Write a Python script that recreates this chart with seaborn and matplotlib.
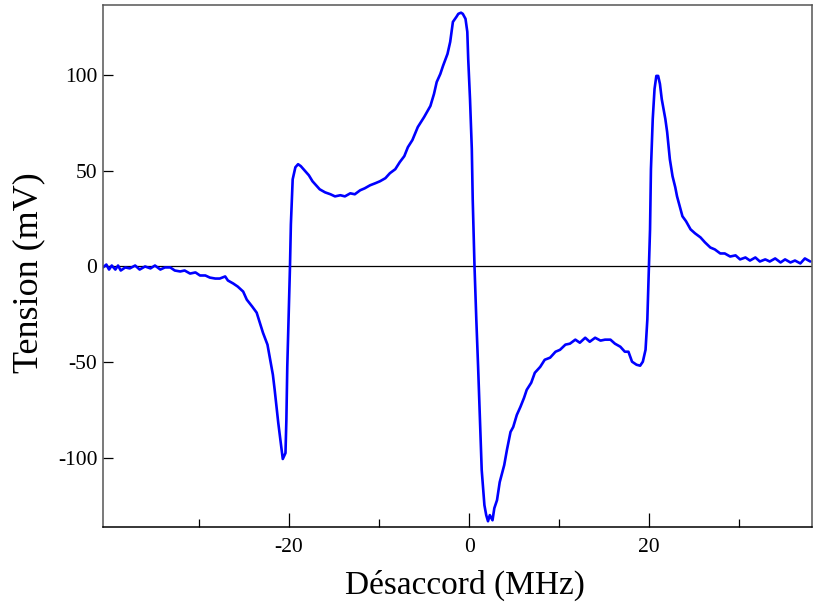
import pandas as pd
import matplotlib
matplotlib.use("Agg")
import matplotlib.pyplot as plt
import seaborn as sns
from matplotlib.ticker import FixedLocator

# Detuning (MHz)
detuning = [
    -40.67, -40.3, -40.0, -39.7, -39.3, -39.0, -38.7, -38.2, -37.7, -37.1,
    -36.6, -36.0, -35.4, -34.9, -34.3, -33.8, -33.2, -32.7, -32.1, -31.6,
    -31.0, -30.4, -29.9, -29.3, -28.8, -28.2, -27.7, -27.1, -26.8, -26.2,
    -25.7, -25.1, -24.7, -24.1, -23.6, -22.9, -22.4, -22.1, -21.8, -21.6,
    -21.2, -20.9, -20.7, -20.4, -20.3, -20.2, -20.0, -19.9, -19.8, -19.6,
    -19.3, -19.0, -18.7, -18.2, -17.8, -17.4, -17.0, -16.6, -16.0, -15.4,
    -14.9, -14.3, -13.8, -13.2, -12.7, -12.1, -11.6, -11.0, -10.4, -9.9,
    -9.3, -8.8, -8.2, -7.7, -7.2, -6.8, -6.3, -5.7, -5.0, -4.3,
    -3.9, -3.6, -3.2, -2.9, -2.4, -2.1, -1.9, -1.8, -1.4, -1.2,
    -0.9, -0.7, -0.4, -0.2, -0.1, 0.1, 0.3, 0.4, 0.6, 0.8,
    1.0, 1.2, 1.4, 1.7, 1.9, 2.1, 2.3, 2.6, 2.8, 3.1,
    3.4, 3.9, 4.2, 4.6, 4.9, 5.3, 5.7, 6.1, 6.4, 6.9,
    7.3, 7.9, 8.4, 9.0, 9.6, 10.1, 10.7, 11.2, 11.8, 12.3,
    12.9, 13.4, 14.0, 14.6, 15.1, 15.7, 16.2, 16.8, 17.3, 17.7,
    18.1, 18.6, 19.0, 19.3, 19.6, 19.8, 19.9, 20.1, 20.2, 20.4,
    20.6, 20.8, 21.0, 21.2, 21.4, 21.8, 22.0, 22.3, 22.6, 22.9,
    23.1, 23.4, 23.7, 24.1, 24.6, 25.1, 25.7, 26.2, 26.8, 27.3,
    27.9, 28.4, 29.0, 29.6, 30.1, 30.7, 31.2, 31.8, 32.3, 32.9,
    33.4, 34.0, 34.6, 35.1, 35.7, 36.2, 36.8, 37.3, 37.9,
]

# Signal voltage (mV)
tension = [
    -0.5, 1.0, -1.6, 0.5, -1.6, 0.5, -2.1, -0.5, -1.0, 0.5,
    -1.6, 0.0, -1.0, 0.5, -1.6, -0.5, -0.5, -2.1, -2.6, -2.1,
    -3.7, -3.1, -4.7, -4.7, -5.8, -6.3, -6.3, -5.2, -7.3, -8.9,
    -10.5, -13.1, -17.3, -20.9, -24.1, -34.6, -40.8, -48.7, -56.5, -64.4,
    -81.7, -93.2, -100.5, -97.4, -80.1, -52.4, -17.3, 0.0, 22.0, 45.5,
    51.8, 53.4, 52.4, 49.7, 47.6, 44.5, 42.4, 40.3, 38.7, 37.7,
    36.6, 37.2, 36.6, 38.2, 37.7, 39.8, 40.8, 42.4, 43.5, 44.5,
    46.1, 48.7, 50.8, 54.5, 57.6, 62.3, 66.0, 72.8, 78.0, 83.8,
    90.1, 96.3, 100.5, 104.7, 111.0, 117.3, 124.1, 127.7, 130.4, 131.9,
    132.5, 131.9, 129.3, 122.5, 108.4, 87.4, 61.3, 35.1, 0.0, -27.7,
    -52.4, -80.1, -106.3, -124.6, -129.8, -133.0, -129.8, -132.5, -126.2, -122.0,
    -112.6, -103.7, -95.8, -86.4, -83.8, -77.5, -73.3, -68.6, -64.4, -60.7,
    -55.5, -52.4, -48.7, -47.6, -44.5, -43.5, -40.8, -40.3, -38.2, -39.8,
    -37.2, -39.3, -37.2, -38.7, -38.2, -38.2, -40.3, -41.9, -44.5, -44.5,
    -49.7, -51.3, -51.8, -49.7, -43.5, -27.7, -12.0, 19.4, 50.8, 77.0,
    92.7, 99.5, 99.5, 95.3, 87.4, 77.0, 70.2, 56.0, 47.1, 41.4,
    36.6, 31.4, 26.2, 23.6, 19.4, 17.3, 15.2, 12.6, 9.9, 8.9,
    6.8, 6.8, 5.2, 5.8, 3.7, 4.7, 3.1, 4.7, 2.6, 3.7,
    2.6, 4.2, 2.1, 3.7, 2.1, 3.1, 1.6, 4.2, 2.6,
]

x_major = [-20, 0, 20]
x_minor = [-30, -10, 10, 30]
y_ticks = [-100, -50, 0, 50, 100]

df = pd.DataFrame({"detuning": detuning, "tension": tension})

sns.set_style("ticks")
plt.rcParams["font.family"] = ["Liberation Serif", "DejaVu Serif"]
plt.rcParams["text.color"] = "black"
plt.rcParams["axes.labelcolor"] = "black"
plt.rcParams["xtick.color"] = "black"
plt.rcParams["ytick.color"] = "black"

fig = plt.figure(figsize=(8.15, 6.06), dpi=100)
ax = fig.add_axes([0.1264, 0.1304, 0.8700, 0.8613])

ax.axhline(0, color="black", lw=0.9, zorder=1)
sns.lineplot(data=df, x="detuning", y="tension", color="#0000ff",
             lw=1.9, ax=ax, zorder=2)

ax.set_xlim(-40.67, 38.1)
ax.set_ylim(-136, 136.5)

ax.xaxis.set_major_locator(FixedLocator(x_major))
ax.xaxis.set_minor_locator(FixedLocator(x_minor))
ax.set_xticklabels([str(v) for v in x_major])
ax.set_yticks(y_ticks)
ax.set_yticklabels([str(v) for v in y_ticks])

ax.tick_params(axis="x", which="major", direction="in", length=10, width=0.9,
               labelsize=15.5, pad=8)
ax.tick_params(axis="x", which="minor", direction="in", length=6, width=0.9)
ax.tick_params(axis="y", direction="in", length=7.5, width=0.9,
               labelsize=15.5, pad=4)

for side in ["left", "top", "right"]:
    ax.spines[side].set_color("#555555")
    ax.spines[side].set_linewidth(1.1)
ax.spines["bottom"].set_color("black")
ax.spines["bottom"].set_linewidth(1.1)

ax.set_xlabel("Désaccord (MHz)", fontsize=24)
ax.set_ylabel("Tension (mV)", fontsize=26)
ax.xaxis.set_label_coords(0.511, -0.082)
ax.yaxis.set_label_coords(-0.082, 0.488)

fig.savefig("out.png", dpi=100)
